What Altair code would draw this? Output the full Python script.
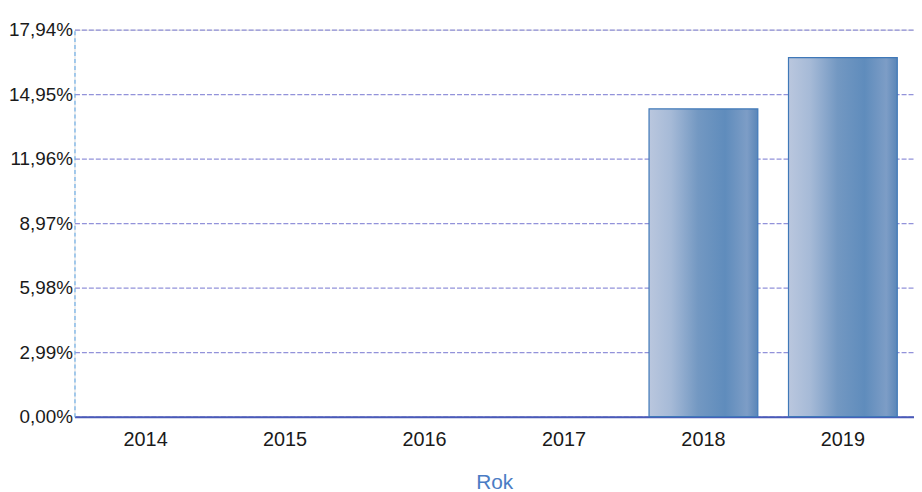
import altair as alt
import pandas as pd

years = ["2014", "2015", "2016", "2017", "2018", "2019"]
values = [0.0, 0.0, 0.0, 0.0, 14.27, 16.65]
tick_values = [0.0, 2.99, 5.98, 8.97, 11.96, 14.95, 17.94]

df = pd.DataFrame({"Rok": years, "val": values})

grad = alt.Gradient(
    gradient="linear",
    stops=[
        alt.GradientStop(color="#bac7de", offset=0.0),
        alt.GradientStop(color="#a6bad7", offset=0.2),
        alt.GradientStop(color="#7398c2", offset=0.45),
        alt.GradientStop(color="#5f8cbc", offset=0.7),
        alt.GradientStop(color="#7d9dc6", offset=0.9),
        alt.GradientStop(color="#5a86b8", offset=1.0),
    ],
    x1=0, x2=1, y1=0, y2=0,
)

chart = (
    alt.Chart(df)
    .transform_filter("datum.val > 0")
    .mark_bar(color=grad, stroke="#3f78b8", strokeWidth=1.2)
    .encode(
        x=alt.X(
            "Rok:N",
            sort=years,
            title="Rok",
            scale=alt.Scale(domain=years, paddingInner=0.22, paddingOuter=0.12),
            axis=alt.Axis(
                labelAngle=0,
                labelFont="Liberation Sans",
                labelFontSize=20,
                labelColor="#1a1a1a",
                labelPadding=13,
                ticks=False,
                domainColor="#4a5ab8",
                domainWidth=2,
                titleFont="Liberation Sans",
                titleFontSize=21,
                titleFontWeight="normal",
                titleColor="#4a7cc4",
                titlePadding=22,
            ),
        ),
        y=alt.Y(
            "val:Q",
            title=None,
            scale=alt.Scale(domain=[0, 17.94], nice=False, zero=True),
            axis=alt.Axis(
                values=tick_values,
                labelExpr="replace(format(datum.value, '.2f'), '.', ',') + '%'",
                labelFont="Liberation Sans",
                labelFontSize=19,
                labelColor="#1a1a1a",
                labelPadding=2,
                ticks=False,
                grid=True,
                gridColor="#7f7fd4",
                gridWidth=1.2,
                gridDash=[5, 2],
                gridOpacity=0.85,
                domainColor="#6fb0e8",
                domainDash=[4, 3],
                domainWidth=1.2,
            ),
        ),
    )
    .properties(
        width=846,
        height=390,
        autosize=alt.AutoSizeParams(type="none"),
        padding={"left": 67, "top": 20, "right": 0, "bottom": 76},
    )
    .configure_view(stroke=None)
    .configure(background="white")
)

chart.save("out.html", embed_options={"renderer": "svg", "actions": False})
